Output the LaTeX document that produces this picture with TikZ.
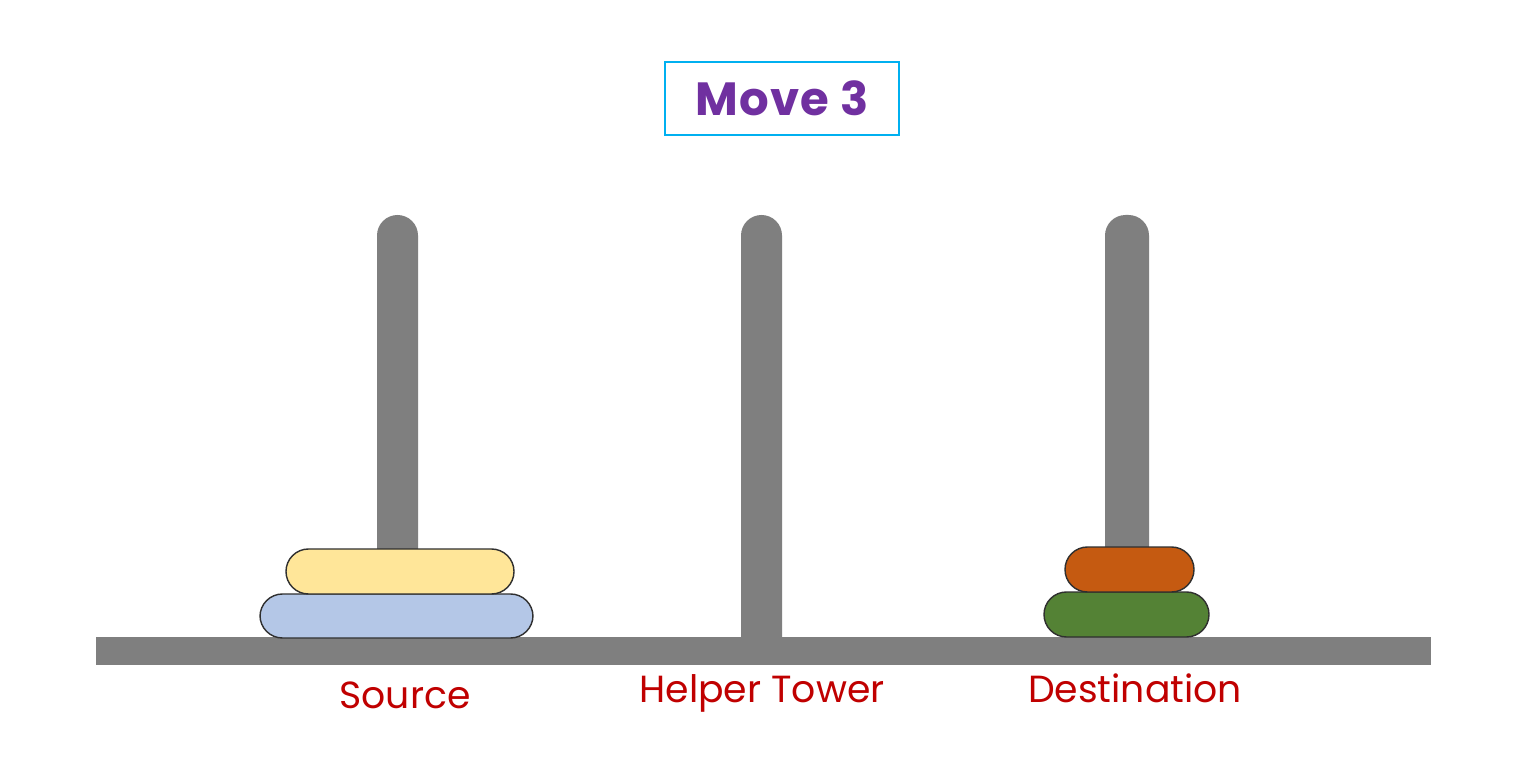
\documentclass[tikz,border=0pt]{standalone}
\usepackage{fontspec}
\setmainfont{Poppins}
\newfontfamily\titlefont{Poppins}[LetterSpace=3]
\definecolor{pegc}{HTML}{7F7F7F}
\definecolor{labc}{HTML}{C00000}
\definecolor{titc}{HTML}{7030A0}
\definecolor{boxc}{HTML}{00B0F0}
\definecolor{yel}{HTML}{FFE699}
\definecolor{blu}{HTML}{B4C7E7}
\definecolor{ora}{HTML}{C55A11}
\definecolor{gre}{HTML}{548235}
\definecolor{outl}{HTML}{2F2F2F}
\tikzset{
  peg/.style={fill=pegc, rounded corners=0.41cm},
  disk/.style={draw=outl, line width=0.8pt, rounded corners=0.45cm},
  lab/.style={text=labc, font=\fontsize{21.5}{25}\selectfont, inner sep=0pt},
}
\begin{document}
\begin{tikzpicture}[x=0.02cm,y=-0.02cm]
\useasboundingbox[fill=white] (0,0) rectangle (1528,763);
% base
\fill[pegc] (96,637) rectangle (1431,665);
% pegs
\fill[peg] (377,640) |- (418,215) -- (418,640);
\fill[peg] (741,640) |- (782,215) -- (782,640);
\fill[peg] (1105,640) |- (1149,215) -- (1149,640);
% disks
\draw[disk, fill=blu] (260,594) rectangle (533,638);
\draw[disk, fill=yel] (286,549) rectangle (514,594);
\draw[disk, fill=gre] (1044,592) rectangle (1209,637);
\draw[disk, fill=ora] (1065,547) rectangle (1194,592);
% labels
\node[lab] (src) at (405,695) {Source};
\node[lab] (hlp) at (762,693) {Helper Tower};
\node[lab] (dst) at (1135,688) {Destination};
% title
\node[draw=boxc, line width=1.4pt, minimum width=234*0.02cm, minimum height=73*0.02cm, text=titc, font=\titlefont\fontsize{26.5}{30}\selectfont\bfseries] (title) at (782,98.5) {Move 3};
\end{tikzpicture}
\end{document}
